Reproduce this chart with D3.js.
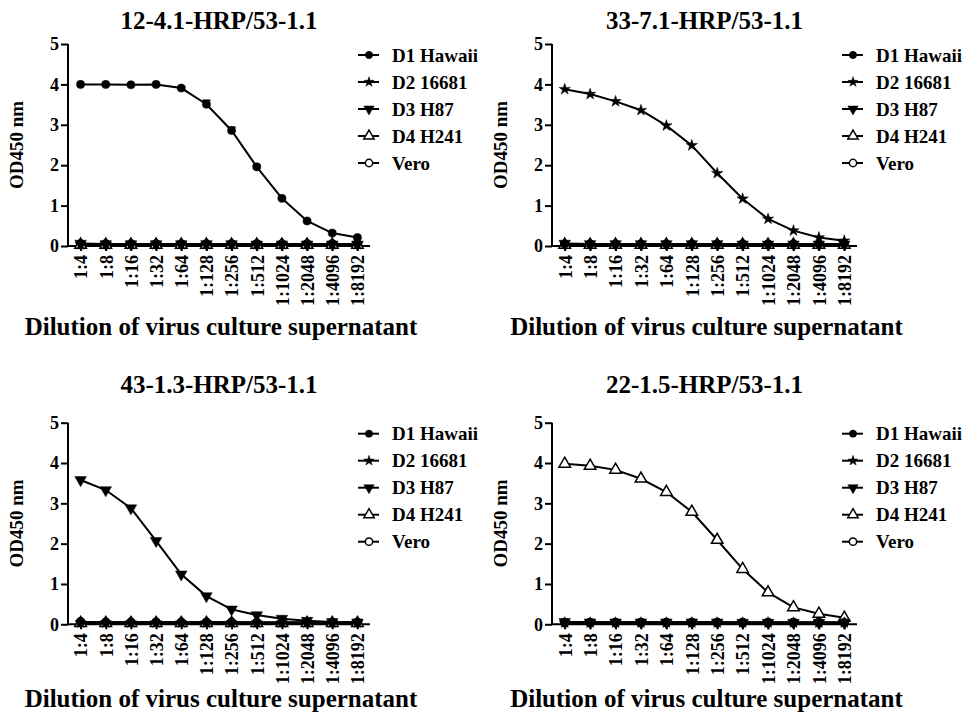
<!DOCTYPE html>
<html>
<head>
<meta charset="utf-8">
<script src="https://cdn.jsdelivr.net/npm/d3@7"></script>
<style>
body { margin: 0; background: #fff; }
</style>
</head>
<body>
<div id="chart"></div>
<script>
const serif = '"Liberation Serif", "Times New Roman", Times, "DejaVu Serif", serif';

// dilutions on the x axis
const dilutions = ['1:4', '1:8', '1:16', '1:32', '1:64', '1:128', '1:256', '1:512', '1:1024', '1:2048', '1:4096', '1:8192'];
const seriesNames = ['D1 Hawaii', 'D2 16681', 'D3 H87', 'D4 H241', 'Vero'];
const yTicks = [0, 1, 2, 3, 4, 5];

const panelTitles = ['12-4.1-HRP/53-1.1', '33-7.1-HRP/53-1.1', '43-1.3-HRP/53-1.1', '22-1.5-HRP/53-1.1'];

// near-background readings (strains that do not react)
const low1 = [0.05, 0.05, 0.05, 0.05, 0.05, 0.05, 0.05, 0.05, 0.05, 0.05, 0.05, 0.05];
const low2 = [0.04, 0.04, 0.04, 0.04, 0.04, 0.04, 0.04, 0.04, 0.04, 0.04, 0.04, 0.04];
const low3 = [0.06, 0.05, 0.05, 0.05, 0.05, 0.05, 0.05, 0.04, 0.04, 0.04, 0.04, 0.04];
const low4 = [0.03, 0.03, 0.03, 0.03, 0.03, 0.03, 0.03, 0.03, 0.03, 0.03, 0.03, 0.03];

// reacting series in each panel
const p1D1 = [4.0, 4.0, 3.99, 4.0, 3.91, 3.51, 2.86, 1.96, 1.18, 0.62, 0.32, 0.21];
const p1D1err = [0, 0, 0, 0, 0.02, 0.1, 0.08, 0.03, 0.02, 0, 0, 0];
const p2D2 = [3.88, 3.76, 3.58, 3.36, 2.98, 2.49, 1.80, 1.17, 0.67, 0.38, 0.21, 0.13];
const p3D3 = [3.58, 3.33, 2.88, 2.07, 1.24, 0.70, 0.37, 0.23, 0.14, 0.09, 0.06, 0.05];
const p4D4 = [3.98, 3.93, 3.83, 3.61, 3.28, 2.79, 2.09, 1.37, 0.79, 0.42, 0.26, 0.16];

const panelData = [
  [p1D1, low2, low3, low4, low1],
  [low1, p2D2, low3, low4, low2],
  [low1, low2, p3D3, low4, low3],
  [low1, low2, low3, p4D4, low2]
];
const panelErrors = [[p1D1err, null, null, null, null], [], [], []];

// layout of each panel
const layout = [
  {left: 68, top: 44, width: 302, height: 202, titleY: 29, xTitleY: 335},
  {left: 552, top: 44, width: 305, height: 202, titleY: 29, xTitleY: 335},
  {left: 68, top: 422.7, width: 302, height: 201.6, titleY: 393, xTitleY: 707},
  {left: 552, top: 422.7, width: 305, height: 201.6, titleY: 393, xTitleY: 707}
];

const svg = d3.select('#chart')
  .append('svg')
  .attr('width', 968)
  .attr('height', 722)
  .attr('font-family', serif)
  .attr('font-weight', 'bold');

function markerPath(i, big) {
  const k = big ? 1 : 0.8;
  if (i === 0 || i === 4) return d3.symbol(d3.symbolCircle, 52 * k)();
  if (i === 1) return d3.symbol(d3.symbolStar, 40 * k)();
  return d3.symbol(d3.symbolTriangle, 58 * k)();
}
function markerStyle(sel, i) {
  sel.attr('fill', (i === 3 || i === 4) ? '#fff' : '#000')
    .attr('stroke', '#000')
    .attr('stroke-width', (i === 3 || i === 4) ? 1.5 : 0.5);
}
function markerTransform(i, x, y) {
  return i === 2 ? `translate(${x},${y}) rotate(180)` : `translate(${x},${y})`;
}

panelTitles.forEach((title, p) => {
  const L = layout[p];
  const g = svg.append('g');

  const x = d3.scalePoint()
    .domain(dilutions)
    .range([L.left, L.left + L.width])
    .padding(0.5);
  const y = d3.scaleLinear()
    .domain([0, 5])
    .range([L.top + L.height, L.top]);

  // title
  g.append('text')
    .attr('x', L.left + L.width / 2)
    .attr('y', L.titleY)
    .attr('text-anchor', 'middle')
    .attr('font-size', 25)
    .text(title);

  // y axis
  const yAxis = g.append('g')
    .attr('transform', `translate(${L.left},0)`)
    .call(d3.axisLeft(y).tickValues(yTicks).tickFormat(d3.format('d')).tickSize(7).tickPadding(2));
  yAxis.attr('font-family', serif).attr('font-weight', 'bold');
  yAxis.select('.domain').attr('stroke-width', 2).attr('d', `M0,${y(0)}V${y(5)}`);
  yAxis.selectAll('.tick line').attr('stroke-width', 2);
  yAxis.selectAll('.tick text')
    .attr('font-size', 18)
    .attr('fill', '#000');

  // x axis
  const xAxis = g.append('g')
    .attr('transform', `translate(0,${y(0)})`)
    .call(d3.axisBottom(x).tickSize(5).tickPadding(3));
  xAxis.attr('font-family', serif).attr('font-weight', 'bold');
  xAxis.select('.domain').attr('stroke-width', 2).attr('d', `M${L.left},0H${L.left + L.width}`);
  xAxis.selectAll('.tick line').attr('stroke-width', 2);
  xAxis.selectAll('.tick text')
    .attr('font-size', 18)
    .attr('fill', '#000')
    .attr('text-anchor', 'end')
    .attr('transform', 'rotate(-90)')
    .attr('x', -9)
    .attr('y', 0)
    .attr('dy', '0.35em');

  // axis titles
  g.append('text')
    .attr('transform', `translate(${L.left - 52},${L.top + L.height / 2}) rotate(-90)`)
    .attr('text-anchor', 'middle')
    .attr('dy', '0.35em')
    .attr('font-size', 19)
    .text('OD450 nm');
  g.append('text')
    .attr('x', L.left + L.width / 2 + 2)
    .attr('y', L.xTitleY)
    .attr('text-anchor', 'middle')
    .attr('font-size', 25)
    .text('Dilution of virus culture supernatant');

  // series, drawn so D1 ends on top
  const line = d3.line()
    .x((d, i) => x(dilutions[i]))
    .y(d => y(d));

  [4, 3, 2, 1, 0].forEach(s => {
    const vals = panelData[p][s];
    g.append('path')
      .attr('d', line(vals))
      .attr('fill', 'none')
      .attr('stroke', '#000')
      .attr('stroke-width', 2);

    const errs = panelErrors[p][s];
    if (errs) {
      vals.forEach((v, i) => {
        if (!errs[i]) return;
        const cx = x(dilutions[i]);
        g.append('path')
          .attr('d', `M${cx},${y(v)}V${y(v + errs[i])}M${cx - 4},${y(v + errs[i])}H${cx + 4}`)
          .attr('stroke', '#000')
          .attr('stroke-width', 1.5)
          .attr('fill', 'none');
      });
    }

    g.selectAll(null)
      .data(vals)
      .join('path')
      .attr('d', markerPath(s, true))
      .attr('transform', (d, i) => markerTransform(s, x(dilutions[i]), y(d)))
      .call(markerStyle, s);
  });

  // legend
  const lx = L.left + 301;
  const leg = g.selectAll('.leg')
    .data(seriesNames)
    .join('g')
    .attr('transform', (d, i) => `translate(${lx},${L.top + 11 + i * 27})`);
  leg.append('line')
    .attr('x1', -11).attr('x2', 10)
    .attr('stroke', '#000').attr('stroke-width', 2);
  leg.append('path')
    .attr('d', (d, i) => markerPath(i, false))
    .attr('transform', (d, i) => markerTransform(i, 0, 0))
    .each(function(d, i) { d3.select(this).call(markerStyle, i); });
  leg.append('text')
    .attr('x', 23)
    .attr('dy', '0.35em')
    .attr('font-size', 19)
    .text(d => d);
});
</script>
</body>
</html>
